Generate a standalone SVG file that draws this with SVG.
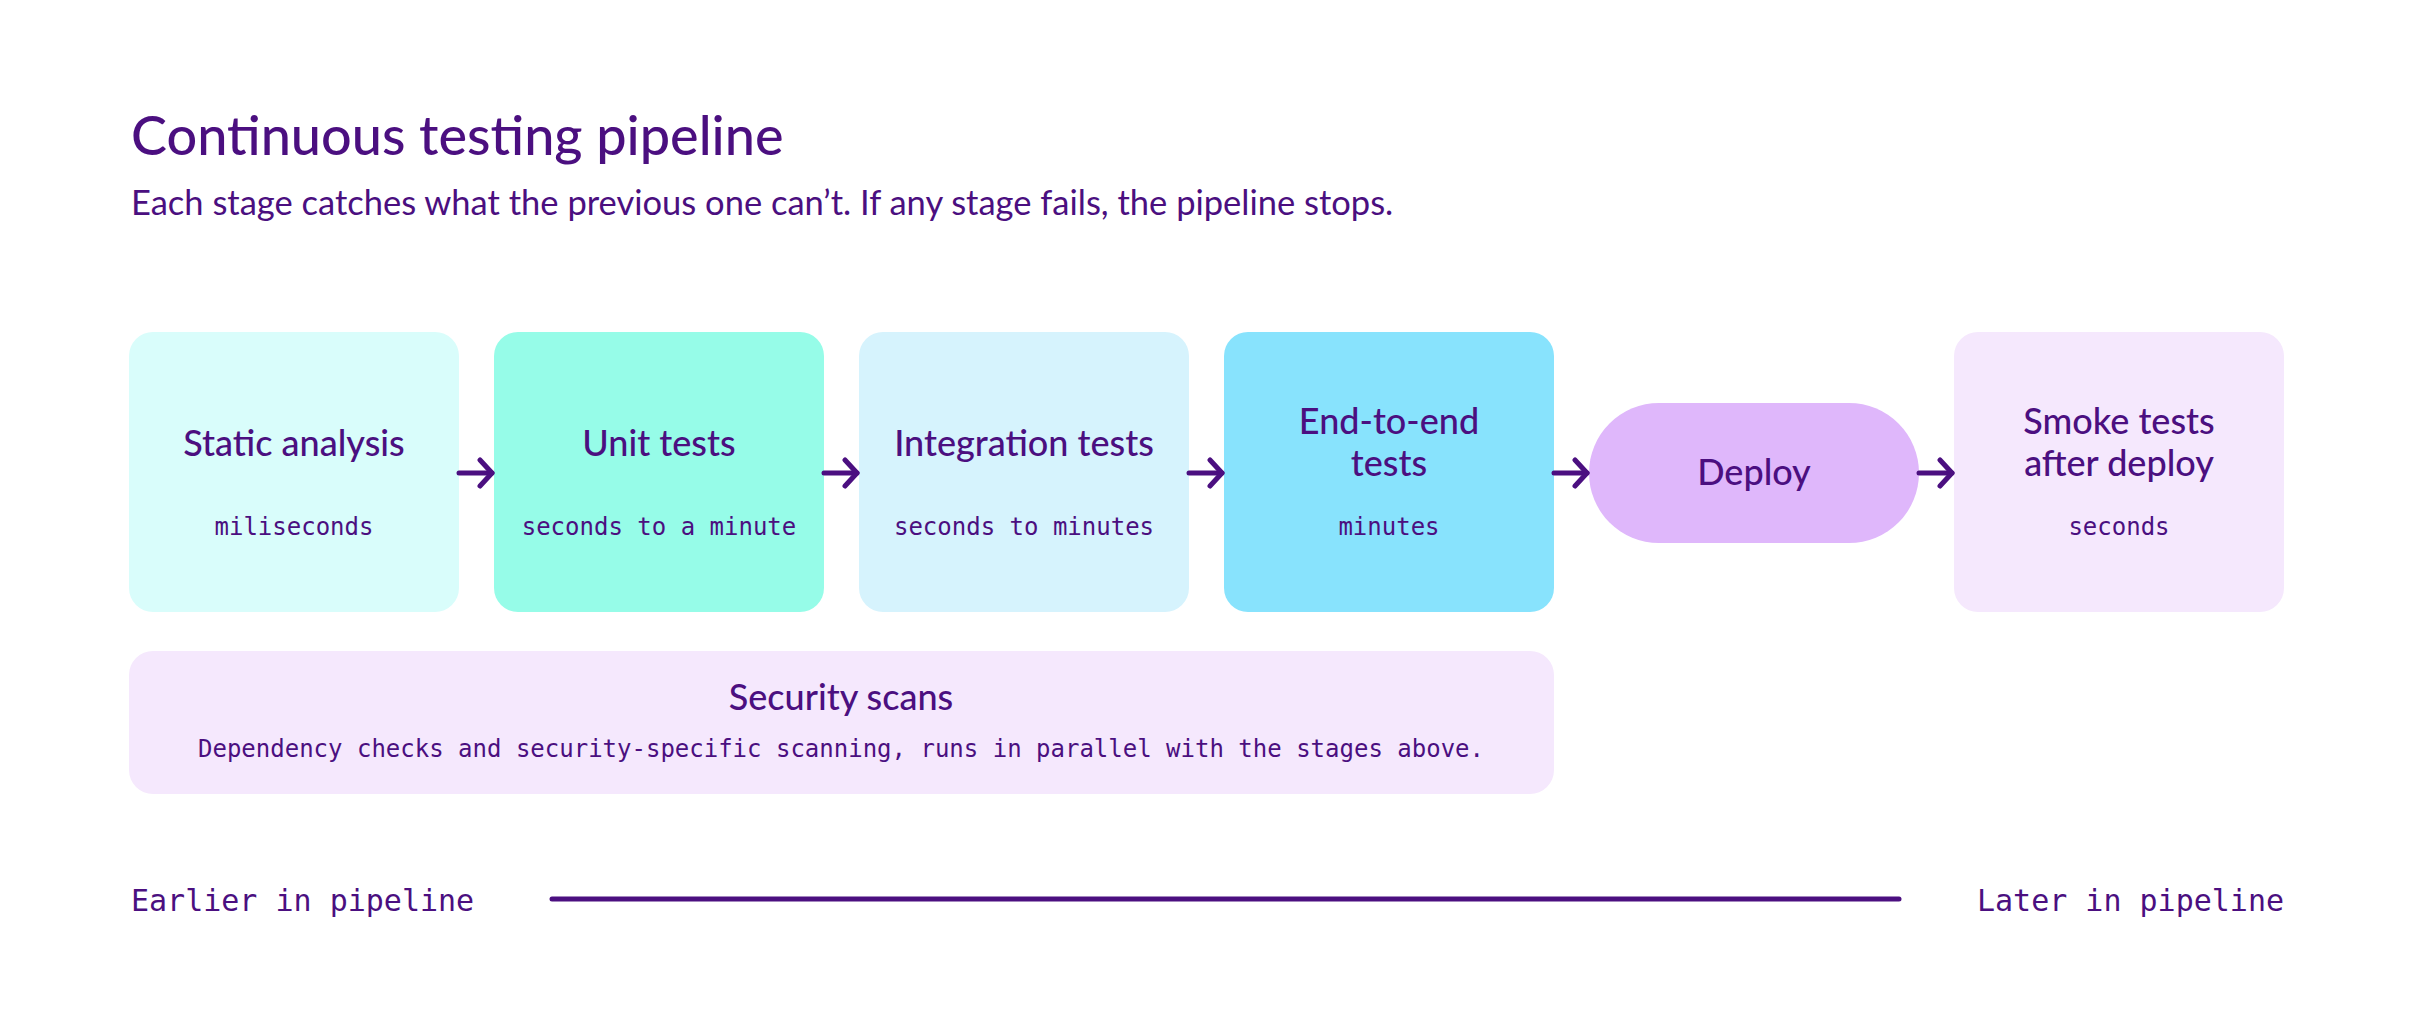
<svg xmlns="http://www.w3.org/2000/svg" width="2413" height="1032" viewBox="0 0 2413 1032">
<defs>
<style>
.sans{font-family:Lato,"Open Sans","Liberation Sans",sans-serif;fill:#4B0F80}
.mono{font-family:"DejaVu Sans Mono","Liberation Mono",monospace;fill:#4B0F80}
.title{font-size:54px;font-weight:500}
.sub{font-size:34.5px}
.nt{font-size:36px;font-weight:500;text-anchor:middle}
.nm{font-size:24px;text-anchor:middle}
.conn{stroke:#4B0F80;stroke-width:5;fill:none;stroke-linecap:round}
</style>
<marker id="arr" viewBox="0 0 18 32" refX="15" refY="16" markerWidth="18" markerHeight="32" markerUnits="userSpaceOnUse" orient="auto">
<path d="M3,3 L15,16 L3,29" fill="none" stroke="#4B0F80" stroke-width="5" stroke-linecap="round" stroke-linejoin="round"/>
</marker>
</defs>
<rect width="2413" height="1032" fill="#FFFFFF"/>
<text class="sans title" x="131" y="155">Continuous testing pipeline</text>
<text class="sans sub" x="131" y="215">Each stage catches what the previous one can’t. If any stage fails, the pipeline stops.</text>

<g id="static">
<rect x="129" y="332" width="330" height="280" rx="24" fill="#D9FDFB"/>
<text class="sans nt" x="294" y="456">Static analysis</text>
<text class="mono nm" x="294" y="535">miliseconds</text>
</g>
<g id="unit">
<rect x="494" y="332" width="330" height="280" rx="24" fill="#96FCE8"/>
<text class="sans nt" x="659" y="456">Unit tests</text>
<text class="mono nm" x="659" y="535">seconds to a minute</text>
</g>
<g id="integration">
<rect x="859" y="332" width="330" height="280" rx="24" fill="#D6F3FD"/>
<text class="sans nt" x="1024" y="456">Integration tests</text>
<text class="mono nm" x="1024" y="535">seconds to minutes</text>
</g>
<g id="e2e">
<rect x="1224" y="332" width="330" height="280" rx="24" fill="#88E3FD"/>
<text class="sans nt" x="1389" y="434">End-to-end</text>
<text class="sans nt" x="1389" y="476">tests</text>
<text class="mono nm" x="1389" y="535">minutes</text>
</g>
<g id="deploy">
<rect x="1589" y="403" width="330" height="140" rx="70" fill="#DFB7FB"/>
<text class="sans nt" x="1754" y="485">Deploy</text>
</g>
<g id="smoke">
<rect x="1954" y="332" width="330" height="280" rx="24" fill="#F5E8FD"/>
<text class="sans nt" x="2119" y="434">Smoke tests</text>
<text class="sans nt" x="2119" y="476">after deploy</text>
<text class="mono nm" x="2119" y="535">seconds</text>
</g>
<g id="security">
<rect x="129" y="651" width="1425" height="143" rx="24" fill="#F5E8FD"/>
<text class="sans nt" x="841" y="710">Security scans</text>
<text class="mono nm" x="841" y="757">Dependency checks and security-specific scanning, runs in parallel with the stages above.</text>
</g>

<g id="connectors">
<line class="conn" x1="459" y1="473" x2="492" y2="473" marker-end="url(#arr)"/>
<line class="conn" x1="824" y1="473" x2="857" y2="473" marker-end="url(#arr)"/>
<line class="conn" x1="1189" y1="473" x2="1222" y2="473" marker-end="url(#arr)"/>
<line class="conn" x1="1554" y1="473" x2="1587" y2="473" marker-end="url(#arr)"/>
<line class="conn" x1="1919" y1="473" x2="1952" y2="473" marker-end="url(#arr)"/>
</g>

<g id="axis">
<text class="mono" x="131" y="911" font-size="30">Earlier in pipeline</text>
<line class="conn" x1="552" y1="899" x2="1899" y2="899" stroke-width="4"/>
<text class="mono" x="2284" y="911" font-size="30" text-anchor="end">Later in pipeline</text>
</g>
</svg>
